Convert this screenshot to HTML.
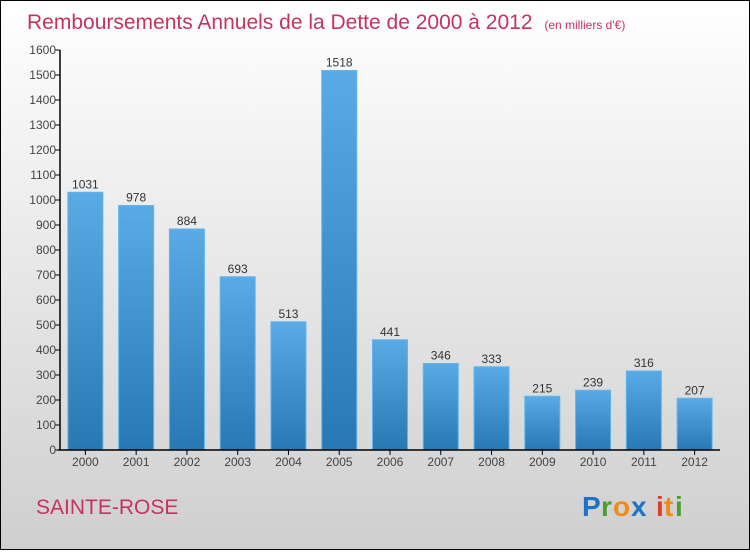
<!DOCTYPE html>
<html><head><meta charset="utf-8"><style>
html,body{margin:0;padding:0}
body{width:750px;height:550px;overflow:hidden;font-family:"Liberation Sans",sans-serif}
</style></head><body>
<svg width="750" height="550" viewBox="0 0 750 550" xmlns="http://www.w3.org/2000/svg">
<defs>
<linearGradient id="bg" x1="0" y1="0" x2="0" y2="1"><stop offset="0" stop-color="#ffffff"/><stop offset="1" stop-color="#cfcfcf"/></linearGradient>
<linearGradient id="bar" x1="0" y1="0" x2="0" y2="1"><stop offset="0" stop-color="#5aaae6"/><stop offset="1" stop-color="#2878b4"/></linearGradient>
</defs>
<rect x="0.5" y="0.5" width="749" height="549" fill="url(#bg)" stroke="#000"/>
<text x="27" y="29" font-size="21" fill="#c8325f">Remboursements Annuels de la Dette de 2000 à 2012 <tspan font-size="12" dx="6">(en milliers d'€)</tspan></text>
<g id="ticks"></g><g id="bars"></g>
<line x1="60" y1="50" x2="60" y2="450" stroke="#000" stroke-width="1.5"/>
<line x1="58" y1="450" x2="720" y2="450" stroke="#000" stroke-width="1.5"/>
<text x="36" y="514" font-size="21" fill="#c8325f">SAINTE-ROSE</text>
<g font-size="28" font-weight="bold" font-family="Liberation Sans, sans-serif">
<text x="582" y="516" fill="#1a73c8">P</text><text x="601" y="516" fill="#4aa02c">r</text><text x="613" y="516" fill="#f08c14">o</text><text x="631" y="516" fill="#1a73c8">x</text><text x="656" y="516" fill="#e03c28">i</text><text x="664" y="516" fill="#f08c14">t</text><text x="675" y="516" fill="#4aa02c">i</text>
</g>
</svg>
<script>
const categories=["2000","2001","2002","2003","2004","2005","2006","2007","2008","2009","2010","2011","2012"];
const values=[1031,978,884,693,513,1518,441,346,333,215,239,316,207];
const yTicks=[0,100,200,300,400,500,600,700,800,900,1000,1100,1200,1300,1400,1500,1600];
const NS="http://www.w3.org/2000/svg";
const y=v=>450-v*0.25;
const band=660/categories.length;
const x=i=>60+band*i+band/2;
const tg=document.getElementById('ticks'),bg=document.getElementById('bars');
function mk(t,a,p){const e=document.createElementNS(NS,t);for(const k in a)e.setAttribute(k,a[k]);p.appendChild(e);return e;}
yTicks.forEach(v=>{
 const l=mk('line',{x1:55,x2:60,y1:y(v),y2:y(v),stroke:'#000'},tg);
 
 
 const t=mk('text',{x:56,y:y(v)+4,'text-anchor':'end','font-size':12,fill:'#444'},tg);
 
 
 t.textContent=v;
});
categories.forEach((c,i)=>{
 const r=mk('rect',{x:x(i)-17.5,y:y(values[i]),width:35,height:450-y(values[i]),fill:'url(#bar)',stroke:'#62b4ee','stroke-width':1},bg);
 
 
 const v=mk('text',{x:x(i),y:y(values[i])-4,'text-anchor':'middle','font-size':12,fill:'#333'},bg);
 
 
 v.textContent=values[i];
 const tk=mk('line',{x1:x(i),x2:x(i),y1:450,y2:455,stroke:'#000'},bg);
 
 
 const t=mk('text',{x:x(i),y:466,'text-anchor':'middle','font-size':12,fill:'#444'},bg);
 
 
 t.textContent=c;
});
</script>
</body></html>
